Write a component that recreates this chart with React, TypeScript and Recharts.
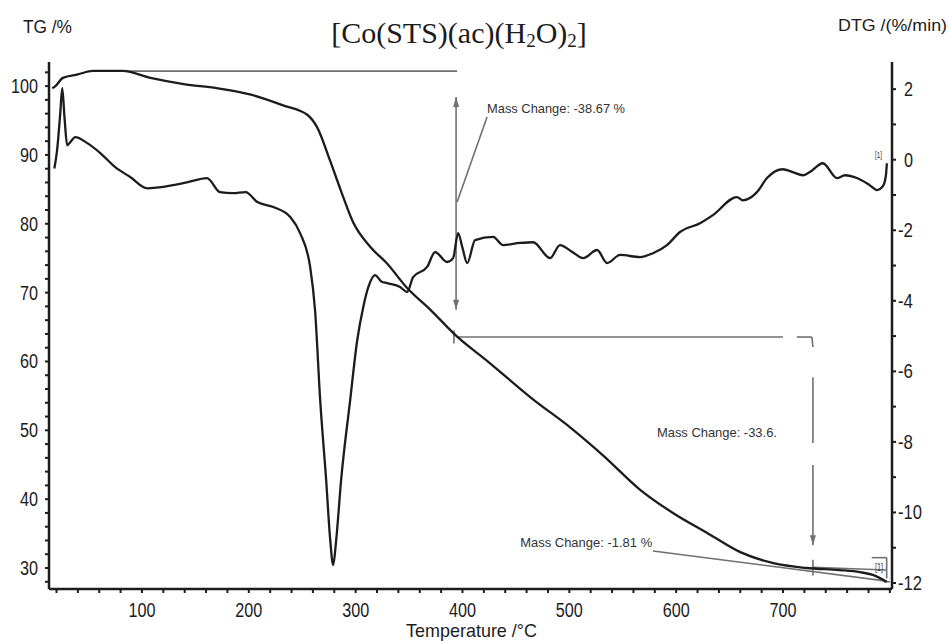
import React from 'react';
import { ComposedChart, Line, XAxis, YAxis, ReferenceLine, ReferenceDot } from 'recharts';

// TG curve (left axis, %)
const tgTemp = [16, 19, 26, 40, 54, 82, 108, 139, 170, 201, 232, 255, 264, 276, 286, 298, 314, 329, 348, 370, 395, 423, 466, 501, 532, 566, 597, 629, 660, 691, 722, 753, 772, 784, 797];
const tgValue = [99.7, 100.0, 101.2, 101.7, 102.2, 102.2, 101.2, 100.3, 99.7, 98.8, 97.2, 95.8, 94.0, 89.2, 84.9, 80.1, 76.6, 74.3, 70.7, 67.5, 63.6, 60.1, 54.5, 50.4, 46.3, 41.4, 38.0, 35.1, 32.3, 30.7, 30.0, 29.7, 29.4, 29.0, 28.0];

// DTG curve (right axis, %/min)
const dtgTemp = [18, 20.5, 23.5, 25.4, 27.5, 30, 33, 37.6, 48.8, 61, 75, 89, 105, 118, 129, 142, 161, 173, 185, 197, 208, 223, 239, 248, 257.4, 262, 266.8, 272.4, 276.2, 279, 281.8, 286.4, 294.9, 301.5, 307.1, 312, 318.2, 324, 329.5, 341.6, 348.2, 353.8, 366.9, 374.4, 385.6, 391.2, 395.9, 400, 404.4, 411.8, 428.6, 438, 453.9, 466.1, 482, 491.3, 502, 512.9, 526, 535.3, 547.5, 566.2, 578.3, 591.4, 603.6, 622.3, 634.4, 656.9, 662.3, 675.6, 685, 699.9, 709, 718.6, 725, 737.3, 750.5, 758, 769.2, 781, 788, 793.5, 796.3, 797.2];
const dtgValue = [-0.25, 0.25, 1.3, 2.03, 1.2, 0.41, 0.5, 0.64, 0.47, 0.19, -0.21, -0.49, -0.81, -0.78, -0.72, -0.64, -0.52, -0.92, -0.95, -0.92, -1.2, -1.34, -1.63, -2.08, -3.04, -4.26, -6.81, -9.08, -10.78, -11.49, -10.78, -9.08, -6.81, -5.11, -4.18, -3.6, -3.27, -3.45, -3.5, -3.61, -3.75, -3.33, -3.04, -2.62, -2.9, -2.79, -2.08, -2.5, -2.93, -2.28, -2.19, -2.42, -2.36, -2.34, -2.79, -2.42, -2.6, -2.79, -2.56, -2.93, -2.7, -2.76, -2.65, -2.42, -2.05, -1.8, -1.57, -1.06, -1.15, -0.92, -0.52, -0.27, -0.35, -0.44, -0.35, -0.1, -0.52, -0.44, -0.52, -0.72, -0.86, -0.75, -0.44, -0.1];

// Axis ticks
const xTicks = [20, 40, 60, 80, 100, 120, 140, 160, 180, 200, 220, 240, 260, 280, 300, 320, 340, 360, 380, 400, 420, 440, 460, 480, 500, 520, 540, 560, 580, 600, 620, 640, 660, 680, 700, 720, 740, 760, 780, 800];
const xLabels = [100, 200, 300, 400, 500, 600, 700];
const tgTicks = [28, 30, 32, 34, 36, 38, 40, 42, 44, 46, 48, 50, 52, 54, 56, 58, 60, 62, 64, 66, 68, 70, 72, 74, 76, 78, 80, 82, 84, 86, 88, 90, 92, 94, 96, 98, 100, 102];
const tgLabels = [30, 40, 50, 60, 70, 80, 90, 100];
const dtgTicks = [-12, -11, -10, -9, -8, -7, -6, -5, -4, -3, -2, -1, 0, 1, 2];
const dtgLabels = [-12, -10, -8, -6, -4, -2, 0, 2];

const tgData = tgTemp.map((t, i) => ({ t, tg: tgValue[i] }));
const dtgData = dtgTemp.map((t, i) => ({ t, dtg: dtgValue[i] }));

const INK = '#1c1c1c';
const GRAY = '#707070';
const SANS = '"Liberation Sans", Arial, sans-serif';

const labelWidth = (s: string) => {
  let w = 0;
  for (const c of s) w += c === '-' ? 6 : 9;
  return w;
};

const LeftTick = (props: any) => {
  const { x, y, payload } = props;
  const v = payload.value;
  if (!tgLabels.includes(v)) return <g />;
  const s = String(v);
  return (
    <text x={x} y={y} dy={7} textAnchor="end" fontFamily={SANS} fontSize={20} fill={INK} textLength={labelWidth(s)} lengthAdjust="spacingAndGlyphs">{s}</text>
  );
};

const RightTick = (props: any) => {
  const { x, y, payload } = props;
  const v = payload.value;
  if (!dtgLabels.includes(v)) return <g />;
  const s = String(v);
  return (
    <text x={v < 0 ? x : x + 6} y={y} dy={7} textAnchor="start" fontFamily={SANS} fontSize={20} fill={INK} textLength={labelWidth(s)} lengthAdjust="spacingAndGlyphs">{s}</text>
  );
};

const BottomTick = (props: any) => {
  const { x, y, payload } = props;
  const v = payload.value;
  if (!xLabels.includes(v)) return <g />;
  const s = String(v);
  return (
    <text x={x} y={y} dy={18} textAnchor="middle" fontFamily={SANS} fontSize={20} fill={INK} textLength={labelWidth(s)} lengthAdjust="spacingAndGlyphs">{s}</text>
  );
};

const arrowHead = (xa: number, ya: number, xb: number, yb: number) => {
  const ang = Math.atan2(yb - ya, xb - xa);
  const L = 10, W = 3;
  const bx = xb - L * Math.cos(ang), by = yb - L * Math.sin(ang);
  const px = -Math.sin(ang) * W, py = Math.cos(ang) * W;
  return `${xb},${yb} ${bx + px},${by + py} ${bx - px},${by - py}`;
};

const Seg = (props: any) => {
  const { x1, y1, x2, y2, headEnd, headStart, w } = props;
  return (
    <g>
      <line x1={x1} y1={y1} x2={x2} y2={y2} stroke={GRAY} strokeWidth={w || 1.6} />
      {headEnd ? <polygon points={arrowHead(x1, y1, x2, y2)} fill={GRAY} /> : null}
      {headStart ? <polygon points={arrowHead(x2, y2, x1, y1)} fill={GRAY} /> : null}
    </g>
  );
};

const noteText = (txt: string, len: number, size = 13) => (p: any) => (
  <text x={p.cx} y={p.cy} fontFamily={SANS} fontSize={size} fill="#333" textLength={len} lengthAdjust="spacingAndGlyphs">{txt}</text>
);

const segs: Array<{ a: [number, number]; b: [number, number]; headEnd?: boolean; headStart?: boolean; w?: number }> = [
  { a: [54, 102.18], b: [395, 102.18] },
  { a: [394, 98.4], b: [394, 67.5], headEnd: true, headStart: true },
  { a: [423, 95.5], b: [395, 83.15] },
  { a: [395, 63.55], b: [700, 63.55] },
  { a: [713, 63.55], b: [727, 63.55] },
  { a: [727, 63.55], b: [728, 62.1] },
  { a: [728, 57.7], b: [728, 48.15] },
  { a: [728, 44.96], b: [728, 33.3], headEnd: true },
  { a: [728, 31.2], b: [728, 28.9] },
  { a: [392, 64.5], b: [392, 62.6] },
  { a: [578.3, 32.47], b: [797.2, 28.1] },
  { a: [728, 30.1], b: [797, 29.7] },
  { a: [783, 31.5], b: [797, 31.5] },
  { a: [797, 31.5], b: [797, 28.5] },
  { a: [794, 28.0], b: [800, 28.0] },
];

export default function App() {
  return (
    <div style={{ position: 'absolute', left: 0, top: 0, width: 949, height: 641, background: '#fff' }}>
      <ComposedChart width={949} height={641} margin={{ top: 62, right: 0, left: 0, bottom: 0 }}>
        <XAxis
          type="number"
          dataKey="t"
          domain={[13, 802]}
          allowDataOverflow
          ticks={xTicks}
          interval={0}
          height={52}
          tickSize={4}
          tickMargin={6}
          axisLine={{ stroke: INK, strokeWidth: 2.5 }}
          tickLine={{ stroke: INK, strokeWidth: 2 }}
          tick={<BottomTick />}
        />
        <YAxis
          yAxisId="tg"
          orientation="left"
          type="number"
          domain={[26.95, 103.5]}
          allowDataOverflow
          ticks={tgTicks}
          interval={0}
          width={49}
          tickSize={4}
          tickMargin={7}
          axisLine={{ stroke: INK, strokeWidth: 2.5 }}
          tickLine={{ stroke: INK, strokeWidth: 2 }}
          tick={<LeftTick />}
        />
        <YAxis
          yAxisId="dtg"
          orientation="right"
          type="number"
          domain={[-12.17, 2.77]}
          allowDataOverflow
          ticks={dtgTicks}
          interval={0}
          width={57}
          tickSize={4}
          tickMargin={2}
          axisLine={{ stroke: INK, strokeWidth: 2.5 }}
          tickLine={{ stroke: INK, strokeWidth: 2 }}
          tick={<RightTick />}
        />
        {segs.map((s, i) => (
          <ReferenceLine
            key={'s' + i}
            yAxisId="tg"
            segment={[{ x: s.a[0], y: s.a[1] }, { x: s.b[0], y: s.b[1] }]}
            ifOverflow="visible"
            shape={(p: any) => <Seg {...p} headEnd={s.headEnd} headStart={s.headStart} w={s.w} />}
          />
        ))}
        <Line data={tgData} yAxisId="tg" dataKey="tg" type="monotone" stroke={INK} strokeWidth={2.3} dot={false} isAnimationActive={false} />
        <Line data={dtgData} yAxisId="dtg" dataKey="dtg" type="monotone" stroke={INK} strokeWidth={2.3} dot={false} isAnimationActive={false} />
        <ReferenceDot yAxisId="tg" x={423} y={96.08} r={0} ifOverflow="visible" shape={noteText('Mass Change: -38.67 %', 138)} />
        <ReferenceDot yAxisId="tg" x={582} y={49.0} r={0} ifOverflow="visible" shape={noteText('Mass Change: -33.6.', 120)} />
        <ReferenceDot yAxisId="tg" x={454} y={33.05} r={0} ifOverflow="visible" shape={noteText('Mass Change: -1.81 %', 132)} />
        <ReferenceDot yAxisId="dtg" x={786} y={0.05} r={0} ifOverflow="visible" shape={noteText('[1]', 7, 9)} />
        <ReferenceDot yAxisId="tg" x={786} y={29.55} r={0} ifOverflow="visible" shape={noteText('[1]', 8, 10)} />
      </ComposedChart>
      <svg width={949} height={641} style={{ position: 'absolute', left: 0, top: 0, pointerEvents: 'none' }}>
        <text x={23} y={33} fontFamily={SANS} fontSize={19} fill={INK} textLength={49} lengthAdjust="spacingAndGlyphs">TG /%</text>
        <text x={838} y={31} fontFamily={SANS} fontSize={17} fill={INK} textLength={109} lengthAdjust="spacingAndGlyphs">DTG /(%/min)</text>
        <text x={406} y={637} fontFamily={SANS} fontSize={19} fill={INK} textLength={131} lengthAdjust="spacingAndGlyphs">Temperature /°C</text>
        <text x={459} y={43} textAnchor="middle" fontFamily='"Liberation Serif", "Times New Roman", serif' fontSize={30} fill={INK}>
          [Co(STS)(ac)(H<tspan fontSize={19} dy={4}>2</tspan><tspan dy={-4}>O)</tspan><tspan fontSize={19} dy={4}>2</tspan><tspan dy={-4}>]</tspan>
        </text>
      </svg>
    </div>
  );
}
